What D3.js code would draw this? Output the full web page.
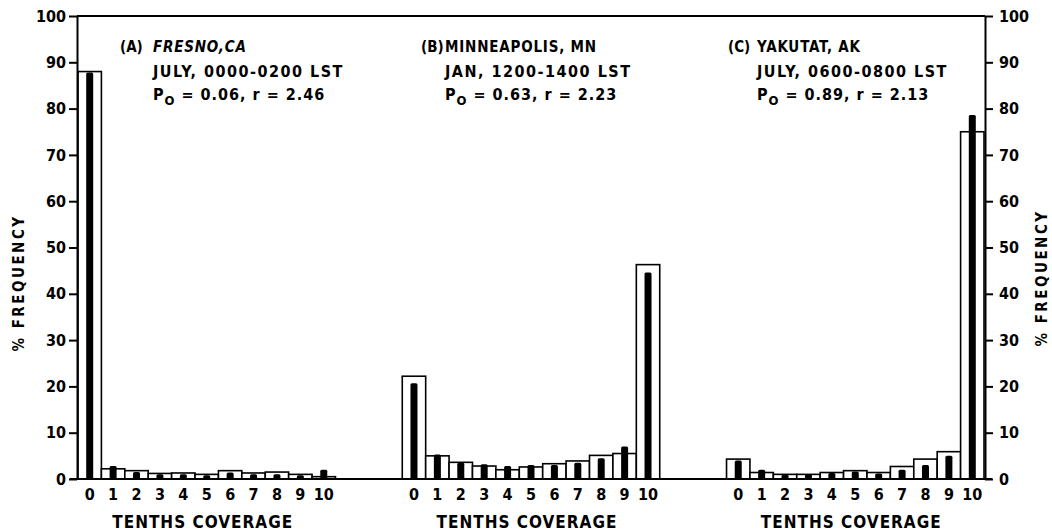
<!DOCTYPE html>
<html>
<head>
<meta charset="utf-8">
<script src="https://cdn.jsdelivr.net/npm/d3@7"></script>
<style>
  body { margin: 0; background: #fff; }
  svg text { font-family: 'DejaVu Sans Condensed', 'DejaVu Sans', sans-serif; font-weight: bold; font-stretch: condensed; fill: #000; }
</style>
</head>
<body>
<div id="chart"></div>
<script>
// cloud cover frequency, three stations
var categories = ['0','1','2','3','4','5','6','7','8','9','10'];
var panels = ['A','B','C'];

// open bars (observed) and solid bars (fitted), % frequency
var observedA = [88.0, 2.2, 1.8, 1.2, 1.3, 1.0, 1.8, 1.3, 1.5, 1.0, 0.5];
var fittedA   = [87.8, 2.8, 1.5, 1.0, 1.0, 0.8, 1.4, 1.0, 1.0, 0.8, 2.0];
var observedB = [22.2, 5.0, 3.6, 2.8, 2.0, 2.6, 3.3, 3.9, 5.1, 5.5, 46.3];
var fittedB   = [20.7, 5.3, 3.5, 3.2, 2.8, 3.0, 3.0, 3.5, 4.5, 7.0, 44.6];
var observedC = [4.3, 1.4, 1.0, 1.0, 1.4, 1.8, 1.4, 2.7, 4.3, 5.9, 75.0];
var fittedC   = [4.0, 2.0, 0.9, 1.0, 1.3, 1.6, 1.2, 2.0, 3.0, 5.0, 78.6];

var yTicks = [0,10,20,30,40,50,60,70,80,90,100];

var tags = ['(A)', '(B)', '(C)'];
var places = ['FRESNO,CA', 'MINNEAPOLIS, MN', 'YAKUTAT, AK'];
var periods = ['JULY, 0000-0200 LST', 'JAN, 1200-1400 LST', 'JULY, 0600-0800 LST'];
var p0 = ['0.06', '0.63', '0.89'];
var rVals = ['2.46', '2.23', '2.13'];

var observed = {'A': observedA, 'B': observedB, 'C': observedC};
var fitted = {'A': fittedA, 'B': fittedB, 'C': fittedC};

var width = 1052, height = 531;
var plotLeft = 77, plotRight = 985, plotTop = 16, plotBottom = 479;
var noteX = [[120,153],[421,445],[728,757]]; // tag x, text x

var svg = d3.select('#chart').append('svg')
    .attr('width', width)
    .attr('height', height)

var y = d3.scaleLinear().domain([0,100]).range([plotBottom, plotTop])

var px = d3.scaleBand().domain(panels).range([78, 984]).paddingInner(0.206)
var x = d3.scaleBand().domain(categories).range([0, px.bandwidth()])

// bars
panels.forEach(function(p, pi){
    var g = svg.append('g').attr('transform', 'translate(' + px(p) + ',0)')

    g.selectAll('rect.open')
        .data(observed[p])
        .enter().append('rect')
        .attr('class','open')
        .attr('x', (d,i) => x(categories[i]))
        .attr('y', d => y(d))
        .attr('width', x.bandwidth())
        .attr('height', d => y(0) - y(d))
        .attr('fill','#fff')
        .attr('stroke','#000')
        .attr('stroke-width',1.6)

    var bw = 7
    g.selectAll('rect.solid')
        .data(fitted[p])
        .enter().append('rect')
        .attr('class','solid')
        .attr('x', (d,i) => x(categories[i]) + x.bandwidth()/2 - bw/2)
        .attr('y', d => y(d))
        .attr('width', bw)
        .attr('height', d => y(0) - y(d))
        .attr('rx', 1.5)
        .attr('fill','#000')

    // category labels
    g.selectAll('text.cat')
        .data(categories)
        .enter().append('text')
        .attr('class','cat')
        .attr('x', d => x(d) + x.bandwidth()/2)
        .attr('y', 500)
        .attr('text-anchor','middle')
        .attr('font-size','16px')
        .text(d => d)

    g.append('text')
        .attr('x', px.bandwidth()/2 - 4)
        .attr('y', 528)
        .attr('text-anchor','middle')
        .attr('font-size','17px')
        .attr('letter-spacing','1px')
        .text('TENTHS  COVERAGE')

    // annotations
    svg.append('text').attr('x', noteX[pi][0]).attr('y', 52).attr('font-size','15px').text(tags[pi])
    svg.append('text').attr('x', noteX[pi][1]).attr('y', 52).attr('font-size','15px')
        .attr('letter-spacing','0.8px')
        .attr('font-style', pi == 0 ? 'italic' : 'normal').text(places[pi])
    svg.append('text').attr('x', noteX[pi][1]).attr('y', 77).attr('font-size','16px')
        .attr('letter-spacing','1.5px').text(periods[pi])
    var t = svg.append('text').attr('x', noteX[pi][1]).attr('y', 100).attr('font-size','16px')
        .attr('letter-spacing','1px')
    t.append('tspan').text('P')
    t.append('tspan').attr('dy', 5).attr('font-size','13px').text('O')
    t.append('tspan').attr('dy', -5).text(' = ' + p0[pi] + ', r = ' + rVals[pi])
})

// frame lines
svg.append('line').attr('x1', plotLeft).attr('x2', plotRight).attr('y1', y(100)).attr('y2', y(100))
    .attr('stroke','#000').attr('stroke-width',2)
svg.append('line').attr('x1', plotLeft - 7).attr('x2', plotRight + 7).attr('y1', y(0)).attr('y2', y(0))
    .attr('stroke','#000').attr('stroke-width',2)

var axL = svg.append('g')
    .attr('transform','translate(' + plotLeft + ',0)')
    .call(d3.axisLeft(y).tickValues(yTicks).tickSize(8).tickSizeOuter(0).tickPadding(3))
var axR = svg.append('g')
    .attr('transform','translate(' + plotRight + ',0)')
    .call(d3.axisRight(y).tickValues(yTicks).tickSize(8).tickSizeOuter(0).tickPadding(6))

;[axL, axR].forEach(function(a){
    a.select('.domain').attr('stroke-width',2)
    a.selectAll('.tick line').attr('stroke-width',2)
    a.selectAll('.tick text').attr('font-size','16px')
        .style('font-family', "'DejaVu Sans Condensed', 'DejaVu Sans', sans-serif")
        .style('font-weight','bold')
})

// y titles
svg.append('g')
    .attr('transform','translate(24,283) rotate(-90)')
    .append('text')
    .attr('text-anchor','middle')
    .attr('font-size','15px')
    .attr('letter-spacing','2.5px')
    .text('% FREQUENCY')
svg.append('g')
    .attr('transform','translate(1047,278) rotate(-90)')
    .append('text')
    .attr('text-anchor','middle')
    .attr('font-size','15px')
    .attr('letter-spacing','2.5px')
    .text('% FREQUENCY')
</script>
</body>
</html>
